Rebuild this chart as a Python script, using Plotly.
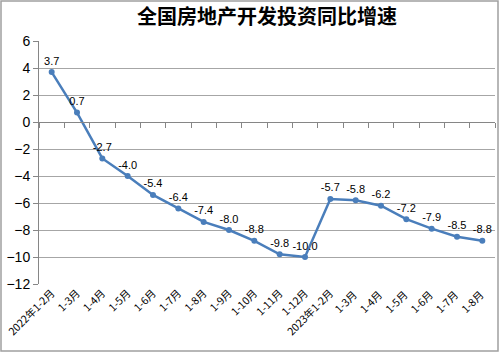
import plotly.graph_objects as go

categories = ["2022年1-2月", "1-3月", "1-4月", "1-5月", "1-6月", "1-7月", "1-8月", "1-9月", "1-10月",
              "1-11月", "1-12月", "2023年1-2月", "1-3月 ", "1-4月 ", "1-5月 ", "1-6月 ", "1-7月 ", "1-8月 "]
values = [3.7, 0.7, -2.7, -4.0, -5.4, -6.4, -7.4, -8.0, -8.8, -9.8, -10.0,
          -5.7, -5.8, -6.2, -7.2, -7.9, -8.5, -8.8]
labels = [f"{v:.1f}" for v in values]
y_ticks = [6, 4, 2, 0, -2, -4, -6, -8, -10, -12]

W, H = 499, 352
ml, mr, mt, mb = 39, 4, 41, 68

fig = go.Figure()
fig.add_trace(go.Scatter(
    x=categories, y=values, mode="lines+markers+text",
    text=labels, textposition="top center",
    textfont=dict(family="Liberation Sans, Arial", size=11, color="#000000"),
    line=dict(color="#4a7ebb", width=2.5),
    marker=dict(color="#4a7ebb", size=6, symbol="circle"),
    cliponaxis=False, showlegend=False,
))

ymin, ymax = -12, 6
zero_pos = (0 - ymin) / (ymax - ymin)

fig.update_layout(
    width=W, height=H,
    margin=dict(l=ml, r=mr, t=mt, b=mb),
    paper_bgcolor="white", plot_bgcolor="white",
    title=dict(text="<b>全国房地产开发投资同比增速</b>", x=0.5, xref="paper", xanchor="center",
               yref="container", y=1 - 10 / H, yanchor="top",
               font=dict(family="Noto Sans CJK SC", size=20, color="#000000")),
    xaxis=dict(type="category", categoryorder="array", categoryarray=categories,
               range=[-0.5, len(categories) - 0.5],
               showgrid=False, showline=False, zeroline=False,
               tickangle=-45, ticks="",
               tickfont=dict(family="Noto Sans CJK SC", size=10.5, color="#000000")),
    xaxis2=dict(overlaying="x", anchor="free", position=zero_pos,
                range=[-0.5, len(categories) - 0.5], showgrid=False,
                showline=True, linecolor="#868686", linewidth=1,
                tickmode="array", tickvals=[i - 0.5 for i in range(len(categories) + 1)],
                ticks="outside", ticklen=5, tickcolor="#868686", showticklabels=False,
                zeroline=False),
    yaxis=dict(range=[ymin, ymax], tickvals=y_ticks, showgrid=True, gridcolor="#a6a6a6",
               gridwidth=1, showline=True, linecolor="#868686", linewidth=1,
               ticks="outside", ticklen=5, tickcolor="#868686", zeroline=False,
               tickfont=dict(family="Liberation Sans, Arial", size=14, color="#000000")),
    shapes=[dict(type="rect", xref="paper", yref="paper",
                 x0=-(ml - 1) / (W - ml - mr), x1=1 + (mr - 1) / (W - ml - mr),
                 y0=-(mb - 1) / (H - mt - mb), y1=1 + (mt - 1) / (H - mt - mb),
                 line=dict(color="#a0a0a0", width=1.5), layer="below")],
)
fig.add_trace(go.Scatter(x=[0], y=[None], xaxis="x2", showlegend=False, hoverinfo="skip"))

fig.write_html("out.html")
